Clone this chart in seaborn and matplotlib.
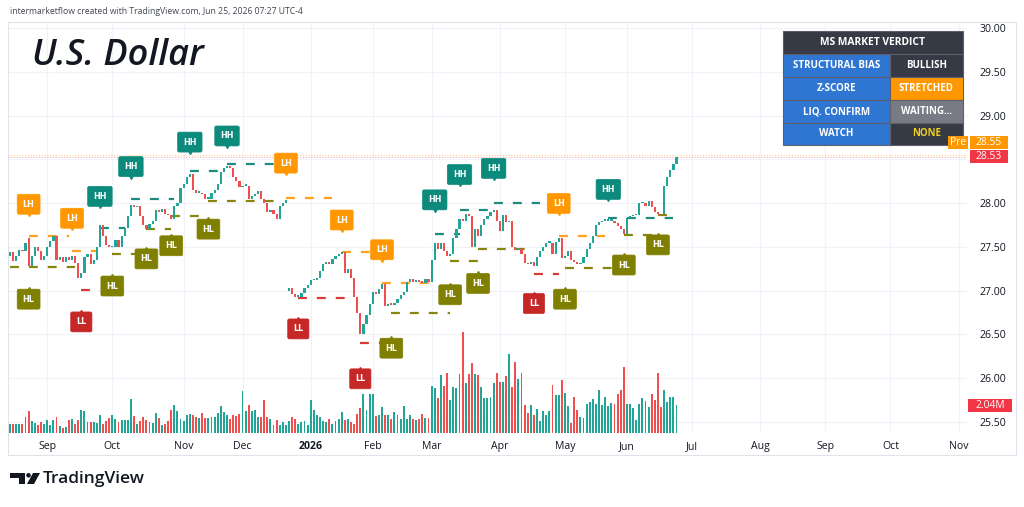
import numpy as np
import pandas as pd
import seaborn as sns
import matplotlib.pyplot as plt
import matplotlib.transforms as mtransforms
from matplotlib.patches import Rectangle, Polygon, Circle
from matplotlib.lines import Line2D

W, H = 1024, 507

# daily candles, Aug 14 2025 -> Jun 24 2026
closes = [
    27.44, 27.34, 27.40, 27.46, 27.45, 27.55, 27.28, 27.40, 27.50, 27.45,
    27.35, 27.40, 27.50, 27.57, 27.62, 27.35, 27.38, 27.33, 27.38, 27.35,
    27.40, 27.32, 27.15, 27.20, 27.38, 27.42, 27.30, 27.35, 27.50, 27.75,
    27.62, 27.52, 27.50, 27.50, 27.58, 27.50, 27.62, 27.72, 27.85, 27.98,
    27.95, 27.97, 27.85, 27.75, 27.70, 27.76, 27.80, 27.92, 27.90, 27.93,
    27.88, 27.86, 27.82, 27.97, 28.00, 28.17, 28.22, 28.30, 28.33, 28.15,
    28.12, 28.12, 28.10, 28.05, 28.05, 28.12, 28.15, 28.22, 28.35, 28.40,
    28.42, 28.40, 28.30, 28.25, 28.18, 28.20, 28.20, 28.05, 28.08, 28.10,
    28.14, 28.05, 28.00, 27.90, 27.92, 27.88, 27.82, 27.97, 28.00, 28.03,
    27.03, 26.96, 26.93, 26.93, 26.97, 27.03, 27.07, 27.12, 27.12, 27.15,
    27.22, 27.30, 27.33, 27.30, 27.36, 27.40, 27.42, 27.44, 27.20, 27.25,
    27.15, 26.93, 26.75, 26.50, 26.62, 26.72, 26.85, 26.98, 26.96, 27.02,
    27.08, 26.82, 26.85, 26.84, 26.86, 26.90, 26.95, 26.98, 27.10, 27.13,
    27.10, 27.12, 27.10, 27.09, 27.13, 27.10, 27.35, 27.55, 27.48, 27.55,
    27.45, 27.40, 27.42, 27.60, 27.70, 27.82, 27.80, 27.88, 27.85, 27.50,
    27.70, 27.62, 27.75, 27.82, 27.85, 27.90, 27.92, 27.80, 27.68, 27.86,
    27.78, 27.80, 27.50, 27.47, 27.48, 27.42, 27.32, 27.30, 27.33, 27.28,
    27.38, 27.45, 27.50, 27.55, 27.55, 27.42, 27.56, 27.60, 27.37, 27.40,
    27.45, 27.35, 27.33, 27.30, 27.32, 27.38, 27.48, 27.55, 27.62, 27.75,
    27.78, 27.80, 27.80, 27.80, 27.80, 27.77, 27.74, 27.70, 27.65, 27.83,
    27.85, 27.86, 27.86, 28.00, 28.00, 27.97, 28.02, 27.95, 27.90, 27.88,
    27.86, 28.20, 28.30, 28.38, 28.45, 28.53,
]
opens = [
    27.40, 27.44, 27.34, 27.40, 27.46, 27.45, 27.60, 27.28, 27.40, 27.50,
    27.45, 27.35, 27.40, 27.50, 27.57, 27.62, 27.35, 27.38, 27.33, 27.38,
    27.35, 27.40, 27.32, 27.15, 27.20, 27.38, 27.42, 27.30, 27.35, 27.50,
    27.75, 27.62, 27.52, 27.50, 27.50, 27.58, 27.50, 27.62, 27.72, 27.85,
    27.98, 27.95, 27.97, 27.85, 27.75, 27.70, 27.76, 27.80, 27.92, 27.90,
    27.93, 27.88, 27.86, 27.82, 27.97, 28.00, 28.17, 28.22, 28.30, 28.33,
    28.15, 28.12, 28.12, 28.10, 28.05, 28.05, 28.12, 28.15, 28.22, 28.35,
    28.40, 28.42, 28.40, 28.30, 28.25, 28.18, 28.20, 28.20, 28.05, 28.08,
    28.10, 28.14, 28.05, 28.00, 27.90, 27.92, 27.88, 27.82, 27.97, 28.00,
    27.00, 27.03, 26.96, 26.93, 26.93, 26.97, 27.03, 27.07, 27.12, 27.12,
    27.15, 27.22, 27.30, 27.33, 27.30, 27.36, 27.40, 27.42, 27.44, 27.20,
    27.25, 27.15, 26.93, 26.75, 26.50, 26.62, 26.72, 26.85, 26.98, 26.96,
    27.02, 27.08, 26.82, 26.85, 26.84, 26.86, 26.90, 26.95, 26.98, 27.10,
    27.13, 27.10, 27.12, 27.10, 27.09, 27.13, 27.10, 27.35, 27.55, 27.48,
    27.55, 27.45, 27.40, 27.42, 27.60, 27.70, 27.82, 27.80, 27.88, 27.85,
    27.50, 27.70, 27.62, 27.75, 27.82, 27.85, 27.90, 27.92, 27.80, 27.68,
    27.86, 27.78, 27.80, 27.50, 27.47, 27.48, 27.42, 27.32, 27.30, 27.33,
    27.28, 27.38, 27.45, 27.50, 27.55, 27.55, 27.42, 27.56, 27.60, 27.37,
    27.40, 27.45, 27.35, 27.33, 27.30, 27.32, 27.38, 27.48, 27.55, 27.62,
    27.75, 27.78, 27.80, 27.80, 27.80, 27.80, 27.77, 27.74, 27.70, 27.65,
    27.83, 27.85, 27.86, 27.86, 28.00, 28.00, 27.97, 28.02, 27.95, 27.90,
    27.88, 27.88, 28.20, 28.30, 28.38, 28.45,
]
# volume in millions
volumes = [
    0.68, 0.68, 0.63, 0.66, 0.68, 1.17, 1.58, 0.85, 0.73, 0.61,
    0.80, 0.68, 0.97, 0.60, 0.92, 1.17, 0.50, 0.37, 0.44, 0.97,
    1.00, 0.68, 0.92, 1.70, 1.58, 0.80, 0.80, 0.80, 0.75, 1.29,
    0.68, 0.85, 1.12, 1.29, 1.00, 0.80, 0.97, 0.97, 0.97, 2.46,
    1.24, 0.63, 0.85, 1.17, 0.92, 0.80, 0.75, 1.48, 1.10, 0.56,
    0.68, 0.85, 1.65, 2.02, 1.58, 1.00, 0.88, 1.34, 1.39, 1.34,
    1.17, 1.10, 1.46, 1.10, 1.10, 1.17, 1.19, 1.48, 1.95, 1.53,
    1.34, 1.05, 1.34, 1.24, 1.39, 3.07, 1.58, 2.02, 1.58, 1.68,
    1.19, 1.19, 2.38, 1.19, 1.05, 0.61, 0.92, 0.61, 0.80, 0.61,
    0.88, 1.19, 1.05, 0.68, 0.80, 0.85, 0.61, 2.43, 1.70, 1.29,
    1.17, 0.85, 0.80, 1.00, 0.68, 0.85, 1.05, 1.53, 0.97, 1.05,
    0.80, 0.68, 1.41, 1.82, 2.85, 1.65, 2.85, 2.85, 1.22, 1.29,
    1.90, 1.34, 1.34, 1.05, 1.53, 1.29, 1.05, 1.95, 1.05, 1.34,
    1.00, 0.92, 1.05, 1.41, 1.10, 1.10, 3.43, 3.31, 2.55, 4.20,
    3.40, 4.38, 2.38, 3.36, 3.31, 4.33, 7.37, 3.65, 4.33, 5.13,
    4.28, 4.20, 3.37, 2.56, 2.56, 2.66, 3.67, 4.38, 3.75, 3.70,
    4.13, 5.77, 3.37, 5.19, 3.92, 4.38, 2.03, 1.47, 2.05, 1.29,
    1.72, 0.84, 1.59, 1.29, 1.59, 3.54, 2.81, 2.81, 3.87, 2.91,
    1.97, 0.76, 2.66, 1.65, 1.16, 1.09, 2.10, 2.23, 2.48, 2.10,
    3.16, 2.05, 2.66, 1.97, 2.18, 2.10, 2.86, 3.11, 4.84, 2.15,
    2.15, 1.85, 0.96, 2.15, 2.56, 2.35, 1.90, 2.86, 2.41, 4.38,
    1.90, 3.16, 2.23, 2.61, 2.61, 2.04,
]

# swing labels (bar, price at the label pointer)
pivot_text = ['LH', 'HL', 'LH', 'LL', 'HH', 'HL', 'HH', 'HL', 'HL', 'HH',
              'HL', 'HH', 'LH', 'LL', 'LH', 'LH', 'LL', 'HL', 'HH', 'HL',
              'HH', 'HL', 'HH', 'LL', 'LH', 'HL', 'HH', 'HL', 'HL']
pivot_bar = [6, 6, 20, 23, 29, 33, 39, 44, 52, 58,
             64, 70, 89, 93, 107, 120, 113, 123, 137, 142,
             145, 151, 156, 169, 177, 179, 193, 198, 209]
pivot_price = [27.85, 27.04, 27.69, 26.78, 27.94, 27.19, 28.28, 27.50, 27.65, 28.56,
               27.84, 28.63, 28.32, 26.70, 27.67, 27.33, 26.13, 26.48, 27.90, 27.09,
               28.19, 27.22, 28.26, 26.99, 27.86, 27.04, 28.02, 27.43, 27.66]

# dashed structure levels
level_kind = ['HL', 'LH', 'LH', 'LL', 'HH', 'HL', 'HH', 'HL', 'HL', 'HH',
              'HL', 'HH', 'LH', 'LL', 'LH', 'LL', 'LH', 'HL', 'HH', 'HL',
              'HH', 'HL', 'HH', 'LL', 'LH', 'HL', 'HH', 'HL', 'HL']
level_start = [0, 6, 20, 23, 29, 33, 39, 44, 52, 58,
               64, 70, 89, 93, 107, 113, 120, 123, 137, 142,
               145, 151, 156, 169, 177, 179, 193, 198, 209]
level_end = [21, 19, 28, 29, 37, 42, 53, 52, 61, 69,
             88, 89, 104, 111, 118, 120, 136, 142, 145, 151,
             156, 166, 171, 177, 192, 195, 214, 210, 212]
level_price = [27.27, 27.62, 27.45, 27.01, 27.72, 27.42, 28.05, 27.71, 27.85, 28.37,
               28.02, 28.45, 28.06, 26.92, 27.44, 26.40, 27.09, 26.74, 27.65, 27.34,
               27.92, 27.48, 28.00, 27.19, 27.63, 27.26, 27.83, 27.64, 27.87]

holidays = ['2025-09-01', '2025-11-27', '2025-12-25', '2026-01-01', '2026-01-19',
            '2026-02-16', '2026-04-03', '2026-05-25', '2026-06-19', '2026-07-03',
            '2026-09-07']

price_ticks = [30.0, 29.5, 29.0, 28.0, 27.5, 27.0, 26.5, 26.0, 25.5]
grid_prices = [30.0, 29.5, 29.0, 28.5, 28.0, 27.5, 27.0, 26.5, 26.0, 25.5]

table_title = 'MS MARKET VERDICT'
table_keys = ['STRUCTURAL BIAS', 'Z-SCORE', 'LIQ. CONFIRM', 'WATCH']
table_vals = ['BULLISH', 'STRETCHED', 'WAITING...', 'NONE']

last_price = 28.53
pre_price = 28.55
last_volume = 2.04

UP, DOWN = '#22a596', '#f04f4f'
kind_color = {'HH': '#0c8a7b', 'LH': '#ff9800', 'HL': '#808000', 'LL': '#c62828'}
line_color = {'HH': '#1d8c7f', 'LH': '#ffa01e', 'HL': '#86860f', 'LL': '#d83a3a'}

assert len(closes) == len(opens) == len(volumes)

sns.set_theme(style='white')
plt.rcParams['font.family'] = ['Open Sans', 'DejaVu Sans']

df = pd.DataFrame({'o': opens, 'c': closes, 'vol': volumes})
df['bar'] = np.arange(len(df))
df['dir'] = np.where(df['c'] >= df['o'], 'up', 'down')

cal = pd.bdate_range('2025-08-14', '2026-11-30', freq='C', holidays=holidays)
cal_s = pd.Series(cal)
firsts = cal_s.groupby(cal_s.dt.to_period('M')).head(1)
firsts = firsts[(firsts.index > 0) & (firsts.index < 308)]
month_pos = list(firsts.index)
month_lab = [str(d.year) if d.month == 1 else d.strftime('%b') for d in firsts]

fig = plt.figure(figsize=(W / 100, H / 100), dpi=100)
ax = fig.add_axes([8 / W, 1 - 433 / H, 959 / W, 411 / H])
axv = ax.twinx()
axv.set_zorder(ax.get_zorder() - 1)
ax.patch.set_visible(False)

xlim = (-0.65, 308.7)
ylim = (25.374, 30.069)

# volume
sns.barplot(data=df, x='bar', y='vol', hue='dir', palette={'up': UP, 'down': DOWN},
            native_scale=True, width=0.62, dodge=False, saturation=1,
            errorbar=None, legend=False, linewidth=0, edgecolor='none', ax=axv)
axv.set_ylim(0, 30)
axv.set_yticks([])
axv.set_xlabel('')
axv.set_ylabel('')

# grid (drawn on the volume axes so it sits behind everything)
for p in grid_prices:
    axv.add_line(Line2D(list(xlim), [p, p], transform=ax.transData, color='#f0f3fa', lw=0.9, zorder=0))
for m in month_pos:
    axv.axvline(m, color='#f0f3fa', lw=0.9, zorder=0)

# candles
body_lo = np.minimum(df['o'], df['c'])
body_h = np.maximum((df['c'] - df['o']).abs(), 0.015)
cols = np.where(df['dir'] == 'up', UP, DOWN)
ax.bar(df['bar'], body_h, bottom=body_lo, width=0.7, color=cols, linewidth=0, zorder=3)

# structure levels
for k, s, e, p in zip(level_kind, level_start, level_end, level_price):
    ax.plot([s, e], [p, p], color=line_color[k], lw=1.6, ls=(0, (4, 4.5)), zorder=2)

# last price lines
ax.axhline(pre_price, color='#ffb74d', lw=0.8, ls=(0, (1, 1.5)), alpha=0.6, zorder=1)
ax.axhline(last_price, color='#f77c80', lw=0.8, ls=(0, (1, 1.5)), alpha=0.6, zorder=1)

# swing labels
for t, b, p in zip(pivot_text, pivot_bar, pivot_price):
    above = t in ('HH', 'LH')
    sgn = 1 if above else -1
    c = kind_color[t]
    tr_box = mtransforms.offset_copy(ax.transData, fig=fig, x=0, y=sgn * 12, units='dots')
    tr_tip = mtransforms.offset_copy(ax.transData, fig=fig, x=0, y=sgn * 4, units='dots')
    ax.plot([b], [p], marker='v' if above else '^', ms=6, color=c, mec=c,
            transform=tr_tip, zorder=6, clip_on=False)
    ax.text(b, p, t, transform=tr_box, ha='center', va='center', fontsize=5.8,
            fontweight='bold', color='white', family='DejaVu Sans', zorder=7,
            bbox=dict(boxstyle='round,pad=0.68,rounding_size=0.2', fc=c, ec=c, lw=0.5))

ax.set_xlim(*xlim)
ax.set_ylim(*ylim)
axv.set_xlim(*xlim)

ax.yaxis.tick_right()
ax.set_yticks(price_ticks)
ax.set_yticklabels([f'{p:.2f}' for p in price_ticks])
ax.set_xticks(month_pos)
ax.set_xticklabels(month_lab)
ax.tick_params(axis='y', length=0, pad=9, labelsize=7.6, labelcolor='#131722')
ax.tick_params(axis='x', length=0, pad=6, labelsize=7.6, labelcolor='#131722')
for lab in ax.get_xticklabels():
    if lab.get_text() == '2026':
        lab.set_fontweight('bold')
ax.grid(False)
axv.grid(False)
for a in (ax, axv):
    for sp in a.spines.values():
        sp.set_visible(False)

# ---- overlays in pixel space ----
ident = mtransforms.IdentityTransform()


def box(x0, y0, x1, y1, fc, ec='none', lw=0.0, z=5):
    fig.add_artist(Rectangle((x0, H - y1), x1 - x0, y1 - y0, transform=ident,
                             fc=fc, ec=ec, lw=lw, zorder=z))


def ftext(x, y, s, **kw):
    fig.text(x / W, 1 - y / H, s, **kw)


# frame
fig.add_artist(Rectangle((8, H - 455), 1008, 433, transform=ident, fc='none',
                         ec='#e0e3eb', lw=0.8, zorder=0))

ftext(10, 11, 'intermarketflow created with TradingView.com, Jun 25, 2026 07:27 UTC-4',
      fontsize=6.2, color='#434651', va='center', ha='left')
ftext(32, 56, 'U.S. Dollar', fontsize=26, style='italic', fontweight='semibold',
      color='#131722', va='center', ha='left')

# verdict table
edge = '#5d606b'
box(783, 31, 963, 54, '#363a45', edge, 0.8)
ftext(873, 42.5, table_title, fontsize=7.4, fontweight='bold', color='white', ha='center', va='center', zorder=6)
val_bg = ['#363a45', '#ff9800', '#787b86', '#363a45']
val_fg = ['white', 'white', 'white', '#f2d21b']
row_y = [54, 77, 100, 123, 145]
for i, (k, v) in enumerate(zip(table_keys, table_vals)):
    y0, y1 = row_y[i], row_y[i + 1]
    box(783, y0, 890, y1, '#2f76d2', edge, 0.8)
    box(890, y0, 963, y1, val_bg[i], edge, 0.8)
    ftext(836.5, (y0 + y1) / 2, k, fontsize=7.0, fontweight='bold', color='white', ha='center', va='center', zorder=6)
    ftext(926.5, (y0 + y1) / 2, v, fontsize=7.0, fontweight='bold', color=val_fg[i], ha='center', va='center', zorder=6)

# price tags on the scale
yl = H - ax.transData.transform((0, last_price))[1]
yp = yl - 14
box(970, yl - 6.5, 1008, yl + 6.5, '#f23645')
ftext(989, yl, f'{last_price:.2f}', fontsize=7.4, color='white', ha='center', va='center', zorder=6)
box(948, yp - 6.5, 968, yp + 6.5, '#ff9800')
ftext(958, yp, 'Pre', fontsize=7.4, color='white', ha='center', va='center', zorder=6)
box(970, yp - 6.5, 1008, yp + 6.5, '#ff9800')
ftext(989, yp, f'{pre_price:.2f}', fontsize=7.4, color='white', ha='center', va='center', zorder=6)
yv = H - axv.transData.transform((0, last_volume))[1]
box(968, yv - 6.5, 1012, yv + 6.5, '#f23645')
ftext(990, yv, f'{last_volume:.2f}M', fontsize=7.4, color='white', ha='center', va='center', zorder=6)

# TradingView logo
logo = '#131722'
box(10, 473, 25, 477.5, logo)
box(19, 473, 25, 484, logo)
fig.add_artist(Circle((28.5, H - 475.3), 2.3, transform=ident, fc=logo, ec='none', zorder=5))
fig.add_artist(Polygon([(33, H - 473), (40, H - 473), (34, H - 484), (27, H - 484)],
                       closed=True, transform=ident, fc=logo, ec='none', zorder=5))
ftext(43, 479, 'TradingView', fontsize=12.5, fontweight='semibold', color=logo, ha='left', va='center')

fig.savefig('out.png', dpi=100)
